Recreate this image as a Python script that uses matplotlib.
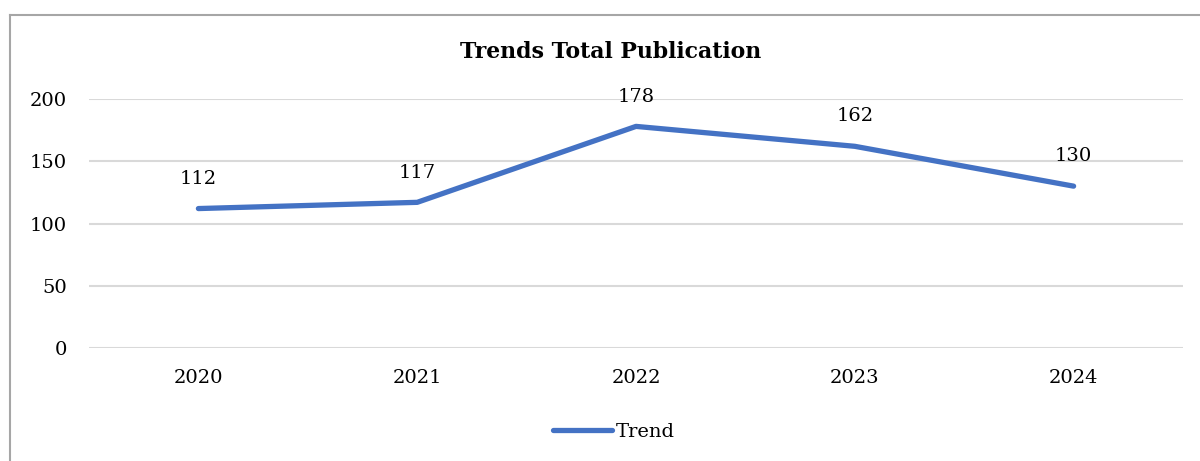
import matplotlib
matplotlib.use('Agg')
import matplotlib.pyplot as plt
from matplotlib.lines import Line2D

years = ['2020', '2021', '2022', '2023', '2024']
totals = [112, 117, 178, 162, 130]
y_ticks = [0, 50, 100, 150, 200]

plt.rcParams['font.family'] = ['DejaVu Serif']

fig = plt.figure(figsize=(12, 4.61), dpi=100)
ax = fig.add_axes([89 / 1200, 1 - 348 / 461, (1183 - 89) / 1200, (348 - 99) / 461])

# chart border (left and top edges visible, rest clipped)
fig.add_artist(Line2D([10 / 1200, 10 / 1200], [0, 1 - 15 / 461], transform=fig.transFigure,
                      color='#a6a6a6', lw=1.5))
fig.add_artist(Line2D([10 / 1200, 1], [1 - 15 / 461, 1 - 15 / 461], transform=fig.transFigure,
                      color='#a6a6a6', lw=1.5))

x = list(range(len(years)))
line, = ax.plot(x, totals, color='#4472C4', lw=3.8, solid_capstyle='round',
                solid_joinstyle='round', label='Trend', zorder=3)

for xi, v in zip(x, totals):
    ax.annotate(str(v), (xi, v), xytext=(0, 15), textcoords='offset points',
                ha='center', va='bottom', fontsize=14, color='#000000')

ax.set_xlim(-0.5, len(years) - 0.5)
ax.set_ylim(0, 200)
ax.set_yticks(y_ticks)
ax.set_xticks(x)
ax.set_xticklabels(years)
ax.tick_params(axis='both', length=0, labelsize=14, colors='#000000')
ax.tick_params(axis='x', pad=15)
ax.tick_params(axis='y', pad=16)
ax.grid(axis='y', color='#d9d9d9', lw=1.5)
ax.set_axisbelow(True)
for s in ax.spines.values():
    s.set_visible(False)

fig.text(611 / 1200, 1 - 52 / 461, 'Trends Total Publication', ha='center', va='center',
         fontsize=15.8, fontweight='bold')

fig.legend(handles=[line], loc='center', bbox_to_anchor=(614 / 1200, 1 - 432 / 461),
           frameon=False, fontsize=14, handlelength=3.0, handletextpad=0.2)

fig.savefig('out.png', dpi=100)
